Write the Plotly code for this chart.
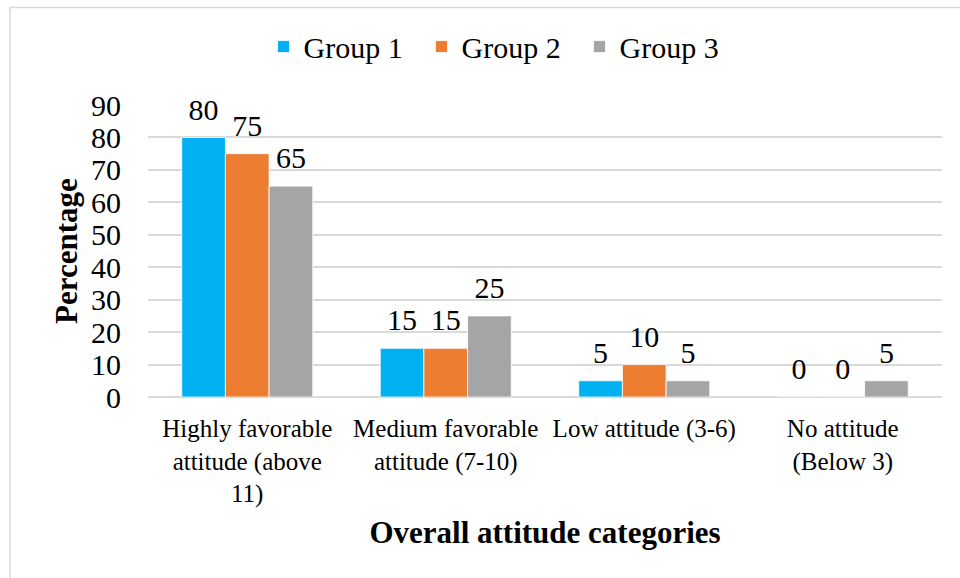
import plotly.graph_objects as go

categories = [
    "Highly favorable<br>attitude (above<br>11)",
    "Medium favorable<br>attitude (7-10)",
    "Low attitude (3-6)",
    "No attitude<br>(Below 3)",
]
group1 = [80, 15, 5, 0]
group2 = [75, 15, 10, 0]
group3 = [65, 25, 5, 5]
series_names = ["Group 1", "Group 2", "Group 3"]
series_colors = ["#00B0F0", "#ED7D31", "#A5A5A5"]

FONT = "Liberation Serif, Times New Roman, serif"

fig = go.Figure()
for name, vals, color in zip(series_names, [group1, group2, group3], series_colors):
    fig.add_trace(go.Bar(
        name=name,
        x=categories,
        y=vals,
        offsetgroup=name,
        marker=dict(color=color, line=dict(color="white", width=0.8)),
        hoverinfo="x+y+name",
    ))

# value labels: text-only scatter traces sharing each bar's offset group
for name, vals in zip(series_names, [group1, group2, group3]):
    fig.add_trace(go.Scatter(
        x=categories,
        y=vals,
        mode="markers+text",
        text=[str(v) for v in vals],
        textposition="top center",
        textfont=dict(family=FONT, size=30, color="black"),
        marker=dict(size=15, opacity=0),
        offsetgroup=name,
        showlegend=False,
        hoverinfo="skip",
        cliponaxis=False,
    ))

fig.update_layout(
    width=960,
    height=578,
    paper_bgcolor="white",
    plot_bgcolor="white",
    barmode="group",
    bargap=0.34,
    bargroupgap=0,
    scattermode="group",
    scattergap=0.34,
    margin=dict(l=148, r=18, t=105, b=181),
    font=dict(family=FONT, size=26, color="black"),
    legend=dict(
        orientation="h",
        x=0.444, xanchor="center",
        y=1.20, yanchor="middle",
        font=dict(family=FONT, size=30, color="black"),
        itemwidth=30,
        entrywidth=113,
        entrywidthmode="pixels",
        tracegroupgap=0,
    ),
    xaxis=dict(
        showgrid=False,
        showline=False,
        ticks="",
        tickfont=dict(family=FONT, size=25, color="black"),
        ticklabelstandoff=14,
        title=dict(
            text="<b>Overall attitude categories</b>",
            font=dict(family=FONT, size=31, color="black"),
            standoff=14,
        ),
    ),
    yaxis=dict(
        range=[0, 90],
        dtick=10,
        showgrid=True,
        gridcolor="#D9D9D9",
        gridwidth=1.5,
        zeroline=True,
        zerolinecolor="#D9D9D9",
        zerolinewidth=1.5,
        showline=False,
        ticks="",
        tickfont=dict(family=FONT, size=30, color="black"),
        ticklabelstandoff=26,
        title=dict(
            text="<b>Percentage</b>",
            font=dict(family=FONT, size=31, color="black"),
            standoff=4,
        ),
    ),
    shapes=[dict(
        type="rect", xref="paper", yref="paper",
        x0=-0.1738, x1=1.05, y0=-0.65, y1=1.334,
        line=dict(color="#D9D9D9", width=1.5),
        fillcolor="rgba(0,0,0,0)",
        layer="below",
    )],
)

fig.write_html("out.html")
